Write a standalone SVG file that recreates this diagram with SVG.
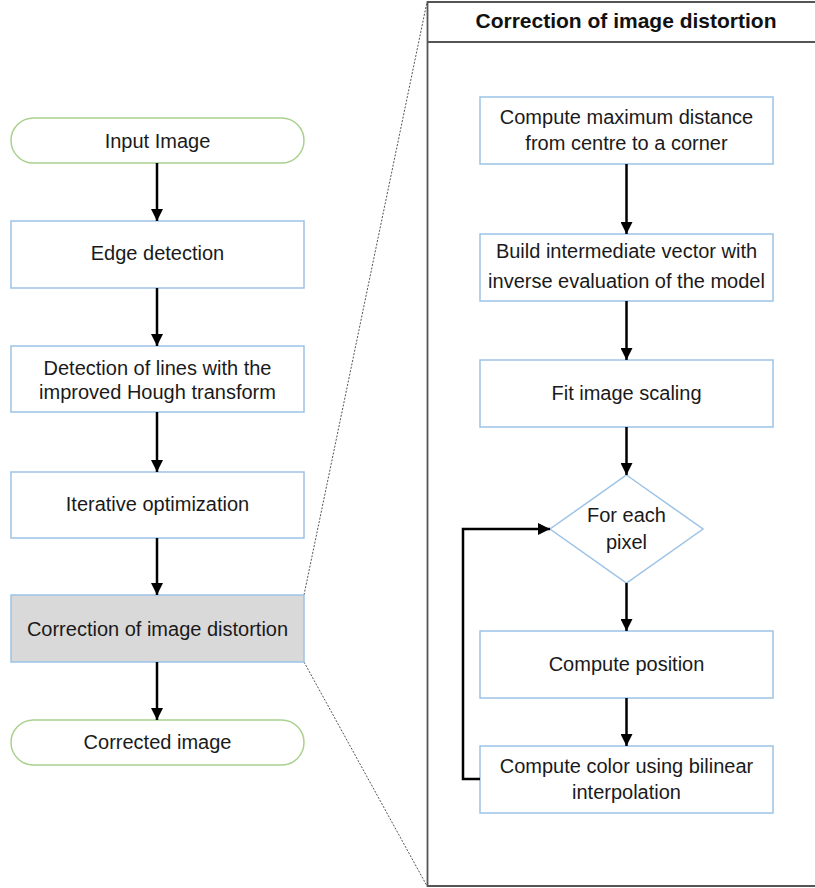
<svg xmlns="http://www.w3.org/2000/svg" width="815" height="888" viewBox="0 0 815 888">
<style>
text{font-family:"Liberation Sans",Arial,sans-serif;font-size:20px;fill:#1a1a1a;text-anchor:middle}
.box{fill:#fff;stroke:#9dc3e6;stroke-width:1.5}
.term{fill:#fff;stroke:#a9d18e;stroke-width:1.5}
.conn{fill:none;stroke:#000;stroke-width:2.5}
.dot{fill:none;stroke:#555;stroke-width:1;stroke-dasharray:2,1.5}
.title{font-weight:bold;font-size:21px;fill:#111}
</style>
<defs>
<marker id="ah" viewBox="0 0 12 12" refX="12" refY="6" markerWidth="12" markerHeight="12" markerUnits="userSpaceOnUse" orient="auto">
<path d="M0,0 L12,6 L0,12 Z" fill="#000"/>
</marker>
</defs>
<rect width="815" height="888" fill="#fff"/>
<g id="panel">
<path d="M815,2 L427.5,2 L427.5,886 L815,886" fill="none" stroke="#555" stroke-width="1.8"/>
<line x1="427.5" y1="42" x2="815" y2="42" stroke="#555" stroke-width="1.8"/>
<text class="title" x="626" y="28">Correction of image distortion</text>
</g>
<g id="zoomlines">
<line class="dot" x1="304" y1="595" x2="427" y2="2"/>
<line class="dot" x1="304" y1="662" x2="427" y2="886"/>
</g>
<g id="n-input"><rect class="term" x="11" y="118" width="293" height="45" rx="22.5"/><text x="157.5" y="148">Input Image</text></g>
<g id="n-edge"><rect class="box" x="11" y="221" width="293" height="67"/><text x="157.5" y="260">Edge detection</text></g>
<g id="n-hough"><rect class="box" x="11" y="346" width="293" height="66"/><text x="157.5" y="375">Detection of lines with the</text><text x="157.5" y="399">improved Hough transform</text></g>
<g id="n-iter"><rect class="box" x="11" y="472" width="293" height="66"/><text x="157.5" y="511">Iterative optimization</text></g>
<g id="n-corr"><rect x="11" y="595" width="293" height="67" fill="#d9d9d9" stroke="#9dc3e6" stroke-width="1.5"/><text x="157.5" y="636">Correction of image distortion</text></g>
<g id="n-out"><rect class="term" x="11" y="720" width="293" height="45" rx="22.5"/><text x="157.5" y="749">Corrected image</text></g>
<g id="r-max"><rect class="box" x="480" y="97" width="293" height="67"/><text x="626.5" y="124">Compute maximum distance</text><text x="626.5" y="150">from centre to a corner</text></g>
<g id="r-build"><rect class="box" x="480" y="234" width="293" height="67"/><text x="626.5" y="258">Build intermediate vector with</text><text x="626.5" y="288">inverse evaluation of the model</text></g>
<g id="r-fit"><rect class="box" x="480" y="360" width="293" height="67"/><text x="626.5" y="400">Fit image scaling</text></g>
<g id="r-each"><polygon class="box" points="626.5,475 703,529 626.5,583 550,529"/><text x="626.5" y="522">For each</text><text x="626.5" y="549">pixel</text></g>
<g id="r-pos"><rect class="box" x="480" y="631" width="293" height="67"/><text x="626.5" y="671">Compute position</text></g>
<g id="r-color"><rect class="box" x="480" y="746" width="293" height="67"/><text x="626.5" y="773">Compute color using bilinear</text><text x="626.5" y="799">interpolation</text></g>
<g id="connectors">
<line class="conn" x1="157" y1="163" x2="157" y2="221" marker-end="url(#ah)"/>
<line class="conn" x1="157" y1="288" x2="157" y2="346" marker-end="url(#ah)"/>
<line class="conn" x1="157" y1="412" x2="157" y2="472" marker-end="url(#ah)"/>
<line class="conn" x1="157" y1="538" x2="157" y2="595" marker-end="url(#ah)"/>
<line class="conn" x1="157" y1="662" x2="157" y2="720" marker-end="url(#ah)"/>
<line class="conn" x1="626.5" y1="164" x2="626.5" y2="234" marker-end="url(#ah)"/>
<line class="conn" x1="626.5" y1="301" x2="626.5" y2="360" marker-end="url(#ah)"/>
<line class="conn" x1="626.5" y1="427" x2="626.5" y2="475" marker-end="url(#ah)"/>
<line class="conn" x1="626.5" y1="583" x2="626.5" y2="631" marker-end="url(#ah)"/>
<line class="conn" x1="626.5" y1="698" x2="626.5" y2="746" marker-end="url(#ah)"/>
<path class="conn" d="M480,779 L463,779 L463,529 L550,529" marker-end="url(#ah)"/>
</g>
</svg>
